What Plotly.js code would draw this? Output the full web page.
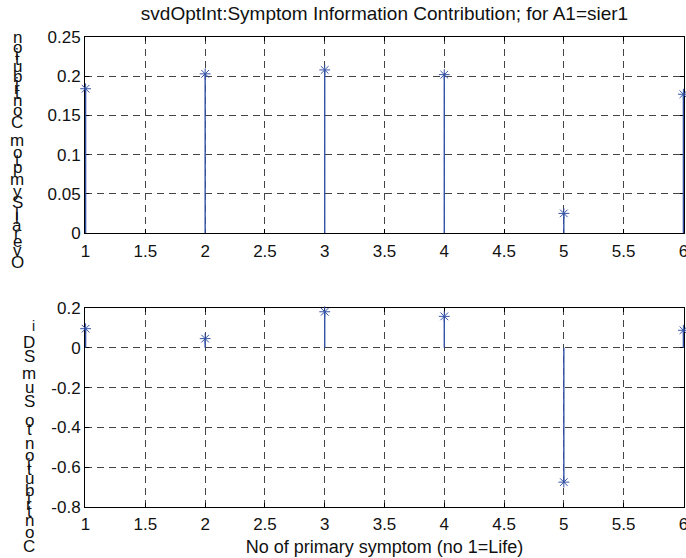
<!DOCTYPE html>
<html>
<head>
<meta charset="utf-8">
<script src="https://cdn.plot.ly/plotly-3.0.1.min.js"></script>
<style>html,body{margin:0;padding:0;background:#fff;}#chart{width:686px;height:558px;}</style>
</head>
<body>
<div id="chart"></div>
<script>
// ---- data ----
var symptoms = [1, 2, 3, 4, 5, 6];
var overallContribution = [0.184, 0.203, 0.208, 0.202, 0.025, 0.177];
var sumSDiContribution = [0.096, 0.046, 0.181, 0.158, -0.675, 0.088];
var xTickVals = [1, 1.5, 2, 2.5, 3, 3.5, 4, 4.5, 5, 5.5, 6];
var xTickText = ['1', '1.5', '2', '2.5', '3', '3.5', '4', '4.5', '5', '5.5', '6'];
var topTickVals = [0, 0.05, 0.1, 0.15, 0.2, 0.25];
var topTickText = ['0', '0.05', '0.1', '0.15', '0.2', '0.25'];
var botTickVals = [-0.8, -0.6, -0.4, -0.2, 0, 0.2];
var botTickText = ['-0.8', '-0.6', '-0.4', '-0.2', '0', '0.2'];
var titleText = 'svdOptInt:Symptom Information Contribution; for A1=sier1';
var xTitleText = 'No of primary symptom (no 1=Life)';
var topYLabel = 'Overall Symptom Contribution';
var botYLabel = 'Contribution to SumSDi';

var FONT = 'Liberation Sans, Arial, Helvetica, sans-serif';
var BLUE = '#3453a6';

// stem = error bar from baseline 0 to the value
function stemErr(ys) {
  return {
    type: 'data', symmetric: false, width: 0, thickness: 1.4, color: BLUE,
    array: ys.map(function (v) { return v < 0 ? -v : 0; }),
    arrayminus: ys.map(function (v) { return v > 0 ? v : 0; })
  };
}

var traces = [
  {x: symptoms, y: overallContribution, xaxis: 'x', yaxis: 'y', mode: 'markers', error_y: stemErr(overallContribution),
   marker: {symbol: 'asterisk-open', size: 9, color: BLUE, line: {color: BLUE, width: 1}}, cliponaxis: false},
  {x: symptoms, y: sumSDiContribution, xaxis: 'x2', yaxis: 'y2', mode: 'markers', error_y: stemErr(sumSDiContribution),
   marker: {symbol: 'asterisk-open', size: 9, color: BLUE, line: {color: BLUE, width: 1}}, cliponaxis: false}
];

var W = 686, H = 558, ML = 85, MR = 2, MT = 37, MB = 51;
var plotH = H - MT - MB, plotW = W - ML - MR;
var X_RANGE = [0.995, 6.005];

function axisCommon() {
  return {
    showline: true, mirror: 'ticks', linecolor: '#000', linewidth: 1, layer: 'below traces',
    showgrid: true, gridcolor: '#444', griddash: '7px,5px', gridwidth: 1,
    zeroline: false, ticks: 'inside', ticklen: 4, tickcolor: '#000',
    tickfont: {family: FONT, size: 17, color: '#111'}, tickmode: 'array',
    ticklabeloverflow: 'allow'
  };
}
var xa = Object.assign(axisCommon(), {range: X_RANGE, tickvals: xTickVals, ticktext: xTickText, anchor: 'y', domain: [0, 1],
  ticklabelstandoff: 3});
var xa2 = Object.assign(axisCommon(), {range: X_RANGE, tickvals: xTickVals, ticktext: xTickText, anchor: 'y2', domain: [0, 1],
  ticklabelstandoff: 2,
  title: {text: xTitleText, font: {family: FONT, size: 18, color: '#111'}, standoff: 6}});
var ya = Object.assign(axisCommon(), {range: [0, 0.25], tickvals: topTickVals, ticktext: topTickText, anchor: 'x',
  domain: [(507 - 233) / plotH, 1]});
var ya2 = Object.assign(axisCommon(), {range: [-0.8, 0.2], tickvals: botTickVals, ticktext: botTickText, anchor: 'x2',
  domain: [0, (507 - 308) / plotH]});

// vertical stacked character labels (each glyph upright, read bottom to top)
var canvas = document.createElement('canvas');
var ctx = canvas.getContext('2d');
function stackedLabel(text, pxX, yTop, yBot, size) {
  ctx.font = size + 'px ' + FONT;
  var chars = text.split('').reverse();
  var widths = chars.map(function (c) { return ctx.measureText(c).width; });
  var centers = [], acc = 0;
  for (var i = 0; i < chars.length; i++) { centers.push(acc + widths[i] / 2); acc += widths[i]; }
  var c0 = centers[0], c1 = centers[centers.length - 1];
  var anns = [];
  for (var j = 0; j < chars.length; j++) {
    if (chars[j] === ' ') continue;
    var py = yTop + (centers[j] - c0) / (c1 - c0) * (yBot - yTop);
    anns.push({
      text: chars[j], xref: 'paper', yref: 'paper',
      x: (pxX - ML) / plotW, y: 1 - (py - MT) / plotH,
      xanchor: 'center', yanchor: 'middle', showarrow: false,
      font: {family: FONT, size: size, color: '#111'}
    });
  }
  return anns;
}
var annotations = []
  .concat(stackedLabel(topYLabel, 17, 38, 262, 17))
  .concat(stackedLabel(botYLabel.slice(0, -1), 29, 342, 546, 17));
annotations.push({text: botYLabel.slice(-1), xref: 'paper', yref: 'paper', x: (33 - ML) / plotW, y: 1 - (326 - MT) / plotH,
  xanchor: 'center', yanchor: 'middle', showarrow: false, font: {family: FONT, size: 14, color: '#111'}});

var layout = {
  width: W, height: H,
  margin: {l: ML, r: MR, t: MT, b: MB, pad: 0},
  paper_bgcolor: '#fff', plot_bgcolor: '#fff',
  showlegend: false,
  font: {family: FONT, size: 17, color: '#111'},
  title: {text: titleText, font: {family: FONT, size: 19, color: '#111'}, x: 0.5, xref: 'paper', y: 1 - 13 / H, yanchor: 'middle'},
  xaxis: xa, yaxis: ya, xaxis2: xa2, yaxis2: ya2,
  annotations: annotations
};

Plotly.newPlot('chart', traces, layout, {displayModeBar: false, staticPlot: true});
</script>
</body>
</html>
